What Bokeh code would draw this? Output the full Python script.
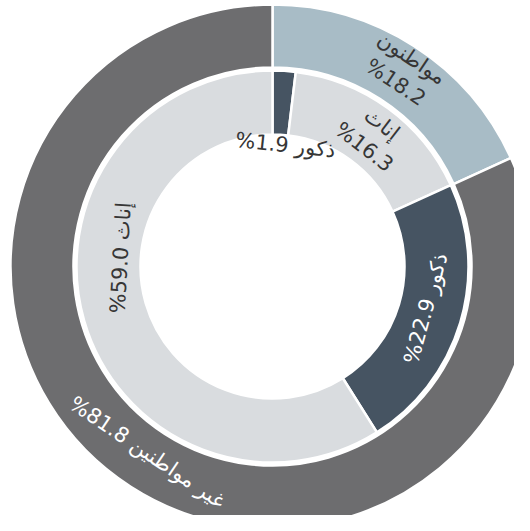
import math
from bokeh.plotting import figure
from bokeh.models import Range1d, ColumnDataSource
from bokeh.core.properties import value
from bokeh.embed import file_html
from bokeh.resources import INLINE

# ---------------- data ----------------
outer_names = ["مواطنون", "غير مواطنين"]
outer_values = [18.2, 81.8]
inner_names = ["ذكور", "إناث", "ذكور", "إناث"]
inner_values = [1.9, 16.3, 22.9, 59.0]

# ---------------- style / layout ----------------
outer_colors = ["#a8bcc6", "#6d6d6f"]
inner_colors = ["#465462", "#d9dcdf", "#465462", "#d9dcdf"]
outer_text_colors = ["#363636", "#ffffff"]
inner_text_colors = ["#363636", "#363636", "#ffffff", "#363636"]
outer_two_line = [True, False]
inner_two_line = [False, True, False, False]
outer_label_r = [236, 224]
outer_label_shift = [1.0, 1.2]
inner_label_r = [122, 165, 159, 152]
inner_label_shift = [2.7, 1.4, -1.3, 19.4]

W, H = 514, 515
CX, CY = 272, H - 266
R_OUT_OUTER, R_OUT_INNER = 262, 199
R_IN_OUTER, R_IN_INNER = 196, 132
FONT = "DejaVu Sans"


def wedges(values):
    total = sum(values)
    starts, ends, mids = [], [], []
    acc = 0.0
    for v in values:
        a0 = acc / total
        acc += v
        a1 = acc / total
        starts.append(math.pi / 2 - 2 * math.pi * a0)
        ends.append(math.pi / 2 - 2 * math.pi * a1)
        mids.append(360.0 * (a0 + a1) / 2)  # degrees clockwise from top
    return starts, ends, mids


def fmt(v):
    return f"{v:.1f}"


def label_data(names, values, mids, radii, shifts, two_line):
    xs, ys, texts, angles = [], [], [], []
    for n, v, m, r, s, tl in zip(names, values, mids, radii, shifts, two_line):
        phi = m + s
        rad = math.radians(phi)
        xs.append(CX + r * math.sin(rad))
        ys.append(CY + r * math.cos(rad))
        texts.append(f"{n}\n%{fmt(v)}" if tl else f"%{fmt(v)} {n}")
        rot = -phi
        while rot <= -180:
            rot += 360
        while rot > 180:
            rot -= 360
        if rot < -90 or rot > 90:
            rot += 180 if rot < 0 else -180
        angles.append(math.radians(rot))
    return xs, ys, texts, angles


p = figure(width=W, height=H, output_backend="svg", toolbar_location=None,
           x_range=Range1d(0, W), y_range=Range1d(0, H), min_border=0)
p.axis.visible = False
p.grid.visible = False
p.outline_line_color = None
p.background_fill_color = "white"
p.border_fill_color = "white"

os_, oe_, om_ = wedges(outer_values)
is_, ie_, im_ = wedges(inner_values)

outer_src = ColumnDataSource(dict(start=os_, end=oe_, color=outer_colors))
inner_src = ColumnDataSource(dict(start=is_, end=ie_, color=inner_colors))

p.annular_wedge(x=CX, y=CY, inner_radius=R_OUT_INNER, outer_radius=R_OUT_OUTER,
                start_angle="start", end_angle="end", direction="clock",
                fill_color="color", line_color="white", line_width=2.5,
                source=outer_src)
p.annular_wedge(x=CX, y=CY, inner_radius=R_IN_INNER, outer_radius=R_IN_OUTER,
                start_angle="start", end_angle="end", direction="clock",
                fill_color="color", line_color="white", line_width=2.5,
                source=inner_src)

ox, oy, ot, oa = label_data(outer_names, outer_values, om_, outer_label_r,
                            outer_label_shift, outer_two_line)
ix, iy, it, ia = label_data(inner_names, inner_values, im_, inner_label_r,
                            inner_label_shift, inner_two_line)

lab_src = ColumnDataSource(dict(x=ox + ix, y=oy + iy, text=ot + it, angle=oa + ia,
                                color=outer_text_colors + inner_text_colors))
p.text(x="x", y="y", text="text", angle="angle", text_color="color",
       text_font=value(FONT), text_font_size="21px", text_align="center",
       text_baseline="middle", text_line_height=1.2, source=lab_src)

open("out.html", "w").write(file_html(p, INLINE))
